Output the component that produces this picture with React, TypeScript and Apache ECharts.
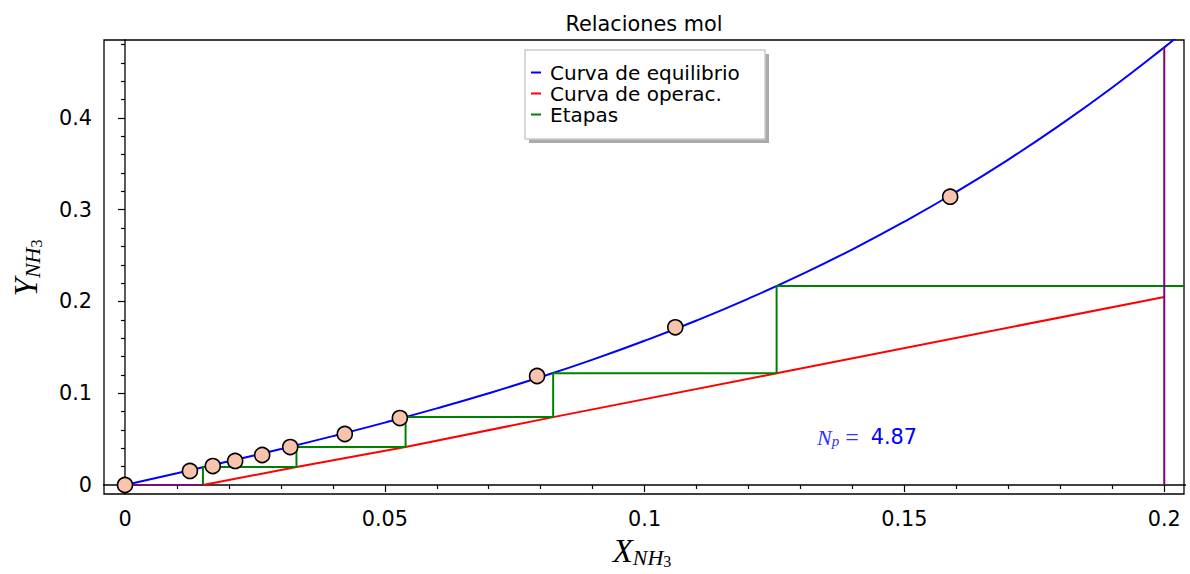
import React, { useEffect, useRef } from "react";
import * as echarts from "echarts";

// ---- data ----
const eqX = [0, 0.01, 0.02, 0.03, 0.04, 0.05, 0.06, 0.07, 0.08, 0.09, 0.1, 0.11, 0.12, 0.13, 0.14, 0.15, 0.16, 0.17, 0.18, 0.19, 0.2, 0.205];
const eqY = [0, 0.0128, 0.0259, 0.0393, 0.0533, 0.068, 0.0835, 0.1, 0.1177, 0.1367, 0.1572, 0.1793, 0.2032, 0.229, 0.2569, 0.2871, 0.3196, 0.3547, 0.3926, 0.4333, 0.477, 0.5001];

const opX = [0.015, 0.033, 0.054, 0.0824, 0.1254, 0.2];
const opY = [0, 0.0196, 0.0414, 0.074, 0.1217, 0.205];

const stepX = [0.015, 0.033, 0.054, 0.0824, 0.1254, 0.21];
const stepY = [0, 0.0196, 0.0414, 0.074, 0.1217, 0.2169];

const ptX = [0, 0.0125, 0.0169, 0.0212, 0.0264, 0.0318, 0.0423, 0.0529, 0.0793, 0.1059, 0.1588];
const ptY = [0, 0.0153, 0.0207, 0.0262, 0.0327, 0.0414, 0.0556, 0.073, 0.1188, 0.1719, 0.3142];

const xMajor = [0, 0.05, 0.1, 0.15, 0.2];
const xMinor = [0.01, 0.02, 0.03, 0.04, 0.06, 0.07, 0.08, 0.09, 0.11, 0.12, 0.13, 0.14, 0.16, 0.17, 0.18, 0.19];
const yMajor = [0, 0.1, 0.2, 0.3, 0.4];
const yMinor = [0.02, 0.04, 0.06, 0.08, 0.12, 0.14, 0.16, 0.18, 0.22, 0.24, 0.26, 0.28, 0.32, 0.34, 0.36, 0.38, 0.42, 0.44, 0.46, 0.48];

const xMin = -0.00404;
const xMax = 0.2038;
const yMin = -0.0098;
const yMax = 0.485;
const xLimit = 0.2;
const yLimitTop = 0.477;

const npValue = "4.87";
const legendNames = ["Curva de equilibrio", "Curva de operac.", "Etapas"];

const SANS = "DejaVu Sans";
const SERIF = "Liberation Serif";
const FS = 20.8;

export default function App() {
  const ref = useRef<HTMLDivElement>(null);

  useEffect(() => {
    if (!ref.current) return;
    const chart = echarts.init(ref.current, undefined, { renderer: "svg" });

    const stepData: number[][] = [];
    for (let i = 0; i < stepX.length - 1; i++) {
      stepData.push([stepX[i], stepY[i]]);
      stepData.push([stepX[i], stepY[i + 1]]);
    }
    stepData.push([stepX[stepX.length - 1], stepY[stepY.length - 1]]);

    const fmt = (v: number) => {
      if (Math.abs(v) < 1e-9) return "0";
      return String(Math.round(v * 1000) / 1000);
    };

    const tickStyle = { color: "#000", width: 1.2 };

    const majorX = {
      type: "value" as const,
      min: xMin,
      max: xMax,
      position: "bottom" as const,
      axisLine: { show: false },
      axisTick: { show: true, customValues: xMajor, length: 7, inside: false, lineStyle: tickStyle },
      axisLabel: { show: true, customValues: xMajor, formatter: fmt, fontFamily: SANS, fontSize: FS, color: "#000", margin: 14 },
      splitLine: { show: false },
    };
    const minorX = {
      type: "value" as const,
      min: xMin,
      max: xMax,
      position: "bottom" as const,
      offset: 0,
      axisLine: { show: false },
      axisTick: { show: true, customValues: xMinor, length: 4, inside: false, lineStyle: tickStyle },
      axisLabel: { show: false },
      splitLine: { show: false },
    };
    const majorY = {
      type: "value" as const,
      min: yMin,
      max: yMax,
      position: "left" as const,
      axisLine: { show: false },
      axisTick: { show: true, customValues: yMajor, length: 7, inside: false, lineStyle: tickStyle },
      axisLabel: { show: true, customValues: yMajor, formatter: fmt, fontFamily: SANS, fontSize: FS, color: "#000", margin: 12 },
      splitLine: { show: false },
    };
    const minorY = {
      type: "value" as const,
      min: yMin,
      max: yMax,
      position: "left" as const,
      offset: 0,
      axisLine: { show: false },
      axisTick: { show: true, customValues: yMinor, length: 4, inside: false, lineStyle: tickStyle },
      axisLabel: { show: false },
      splitLine: { show: false },
    };

    const mathRich = (color: string) => ({
      a: { fontFamily: SERIF, fontStyle: "italic", fontSize: 33, fill: color },
      b: { fontFamily: SERIF, fontStyle: "italic", fontSize: 22, fill: color, padding: [13, 0, 0, 0] },
      c: { fontFamily: SERIF, fontSize: 16, fill: color, padding: [20, 0, 0, 0] },
    });

    chart.setOption({
      animation: false,
      backgroundColor: "#fff",
      title: {
        text: "Relaciones mol",
        left: 639,
        textAlign: "center",
        top: 8,
        textStyle: { fontFamily: SANS, fontSize: FS, fontWeight: "normal", color: "#000" },
      },
      grid: {
        left: 104,
        top: 40,
        right: 6,
        bottom: 80,
        show: true,
        borderColor: "#000",
        borderWidth: 1.3,
        backgroundColor: "transparent",
      },
      xAxis: [majorX, minorX],
      yAxis: [majorY, minorY],
      legend: {
        data: legendNames,
        orient: "vertical",
        left: 531,
        top: 62,
        icon: "rect",
        itemWidth: 10,
        itemHeight: 2,
        itemGap: 0,
        padding: 0,
        z: 10,
        textStyle: { fontFamily: SANS, fontSize: 20, lineHeight: 21, color: "#000", padding: [0, 0, 0, 4] },
      },
      graphic: [
        { type: "rect", z: 8, shape: { x: 529, y: 54, width: 240, height: 89 }, style: { fill: "#aaaaaa" } },
        { type: "rect", z: 9, shape: { x: 525, y: 50, width: 240, height: 89 }, style: { fill: "#fff", stroke: "#cccccc", lineWidth: 1.5 } },
        {
          type: "text",
          z: 10,
          x: 26,
          y: 268,
          rotation: Math.PI / 2,
          style: {
            text: "{a|Y}{b|NH}{c|3}",
            align: "center",
            verticalAlign: "middle",
            rich: mathRich("#000"),
          },
        },
        {
          type: "text",
          z: 10,
          x: 642,
          y: 551,
          style: {
            text: "{a|X}{b|NH}{c|3}",
            align: "center",
            verticalAlign: "middle",
            rich: mathRich("#000"),
          },
        },
        {
          type: "text",
          z: 10,
          x: 817,
          y: 437,
          style: {
            text: "{a|N}{b|p}{c|=}{d|" + npValue + "}",
            verticalAlign: "middle",
            rich: {
              a: { fontFamily: SERIF, fontStyle: "italic", fontSize: 22, fill: "#3030ff" },
              b: { fontFamily: SERIF, fontStyle: "italic", fontSize: 15, fill: "#3030ff", padding: [8, 0, 0, 0] },
              c: { fontFamily: SERIF, fontSize: 24, fill: "#3030ff", padding: [0, 2, 0, 6] },
              d: { fontFamily: SANS, fontSize: FS, fill: "#0000ff", padding: [0, 0, 0, 10] },
            },
          },
        },
      ],
      series: [
        {
          name: "axh",
          type: "line",
          data: [[-1, 0], [1, 0]],
          showSymbol: false,
          lineStyle: { color: "#000", width: 1.3 },
          silent: true,
          z: 1,
        },
        {
          name: "axv",
          type: "line",
          data: [[0, -1], [0, 1]],
          showSymbol: false,
          lineStyle: { color: "#000", width: 1.3 },
          silent: true,
          z: 1,
        },
        {
          name: "Curva de equilibrio",
          type: "line",
          data: eqX.map((x, i) => [x, eqY[i]]),
          smooth: 0.5,
          showSymbol: false,
          color: "#0000ff",
          lineStyle: { color: "#0000ff", width: 2 },
          z: 2,
        },
        {
          name: "Curva de operac.",
          type: "line",
          data: opX.map((x, i) => [x, opY[i]]),
          smooth: false,
          showSymbol: false,
          color: "#ff0000",
          lineStyle: { color: "#ff0000", width: 2 },
          z: 2,
        },
        {
          name: "Etapas",
          type: "line",
          data: stepData,
          showSymbol: false,
          color: "#008000",
          lineStyle: { color: "#008000", width: 2 },
          z: 2,
        },
        {
          name: "limite",
          type: "line",
          data: [[xLimit, 0], [xLimit, yLimitTop]],
          showSymbol: false,
          lineStyle: { color: "#800080", width: 2 },
          z: 2,
        },
        {
          name: "base",
          type: "line",
          data: [[0, 0], [opX[0], 0]],
          showSymbol: false,
          lineStyle: { color: "#800080", width: 1.3 },
          z: 2,
        },
        {
          name: "puntos",
          type: "scatter",
          data: ptX.map((x, i) => [x, ptY[i]]),
          symbolSize: 15,
          itemStyle: { color: "#f9c4ae", borderColor: "#000", borderWidth: 1.6, opacity: 1 },
          z: 3,
        },
      ],
    });

    return () => chart.dispose();
  }, []);

  return (
    <div
      ref={ref}
      style={{ position: "fixed", left: 0, top: 0, width: 1190, height: 574 }}
    />
  );
}
